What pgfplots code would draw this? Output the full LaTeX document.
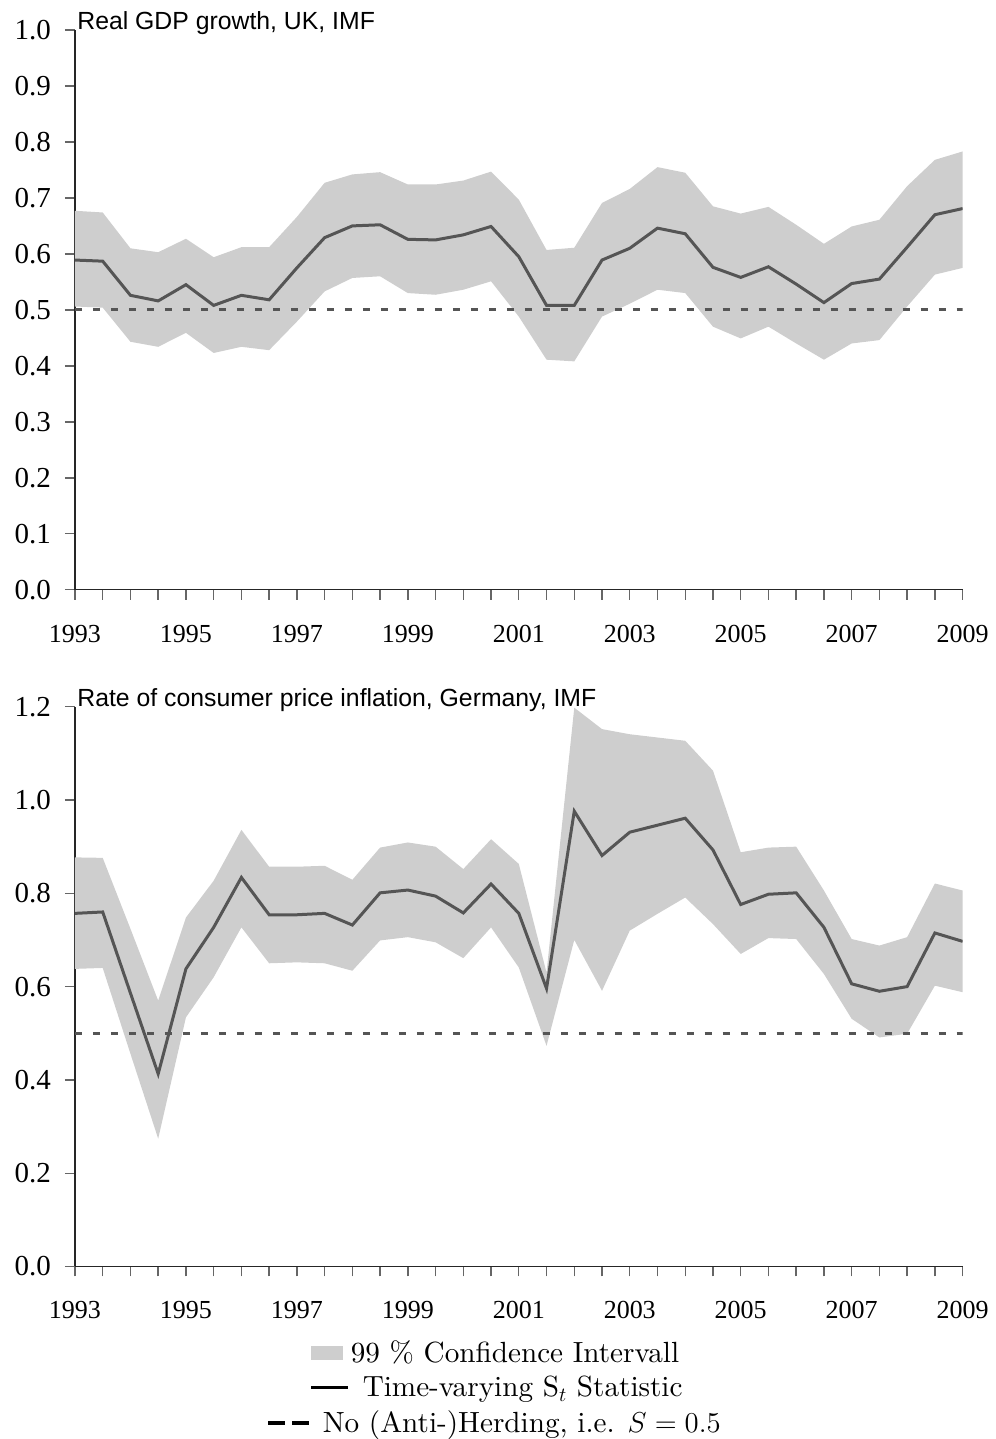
\documentclass[border=0pt]{standalone}
\usepackage{pgfplots}
\usepackage{pgfplotstable}
\pgfplotsset{compat=1.18}
\usepgfplotslibrary{fillbetween}
\usepackage{fontspec}
\newfontfamily\timesf{Liberation Serif}
\newfontfamily\arialf{Liberation Sans}
\newfontfamily\lmten{lmroman10-regular}[Extension=.otf]
\definecolor{linec}{HTML}{555555}
\definecolor{cifill}{HTML}{CECECE}

\pgfplotstableread{
x s up lo
1993 0.589 0.677 0.506
1993.5 0.587 0.674 0.504
1994 0.526 0.610 0.443
1994.5 0.516 0.603 0.434
1995 0.545 0.627 0.459
1995.5 0.508 0.594 0.423
1996 0.526 0.612 0.434
1996.5 0.518 0.612 0.428
1997 0.575 0.666 0.479
1997.5 0.629 0.727 0.533
1998 0.650 0.742 0.557
1998.5 0.652 0.746 0.560
1999 0.626 0.724 0.530
1999.5 0.625 0.724 0.527
2000 0.634 0.731 0.536
2000.5 0.649 0.747 0.551
2001 0.595 0.697 0.488
2001.5 0.508 0.607 0.411
2002 0.508 0.611 0.408
2002.5 0.589 0.691 0.488
2003 0.610 0.716 0.511
2003.5 0.646 0.755 0.536
2004 0.636 0.745 0.530
2004.5 0.576 0.685 0.470
2005 0.558 0.672 0.449
2005.5 0.577 0.684 0.470
2006 0.546 0.652 0.440
2006.5 0.513 0.618 0.411
2007 0.547 0.649 0.440
2007.5 0.555 0.661 0.446
2008 0.612 0.721 0.506
2008.5 0.670 0.768 0.563
2009 0.681 0.783 0.575
}\gdpuk

\pgfplotstableread{
x s up lo
1993 0.757 0.877 0.638
1993.5 0.760 0.876 0.640
1994 0.586 0.724 0.456
1994.5 0.413 0.570 0.274
1995 0.638 0.748 0.534
1995.5 0.727 0.827 0.620
1996 0.834 0.936 0.727
1996.5 0.754 0.857 0.650
1997 0.754 0.857 0.652
1997.5 0.757 0.859 0.650
1998 0.732 0.829 0.634
1998.5 0.801 0.898 0.699
1999 0.807 0.909 0.706
1999.5 0.794 0.900 0.695
2000 0.758 0.852 0.661
2000.5 0.820 0.916 0.727
2001 0.757 0.863 0.641
2001.5 0.596 0.630 0.473
2002 0.976 1.198 0.700
2002.5 0.881 1.152 0.591
2003 0.931 1.141 0.720
2003.5 0.946 1.134 0.756
2004 0.961 1.127 0.791
2004.5 0.893 1.063 0.734
2005 0.776 0.888 0.670
2005.5 0.798 0.898 0.704
2006 0.801 0.900 0.702
2006.5 0.727 0.806 0.627
2007 0.606 0.702 0.531
2007.5 0.590 0.688 0.491
2008 0.600 0.706 0.499
2008.5 0.715 0.821 0.602
2009 0.697 0.806 0.588
}\cpide

\pgfplotsset{
  myaxis/.style={
    scale only axis, width=444pt, height=280pt,
    axis x line=bottom, axis y line=left,
    axis line style={-, black!85, line width=0.7pt},
    xmin=1993, xmax=2009, ymin=0,
    xtick={1993,1995,1997,1999,2001,2003,2005,2007,2009},
    xticklabels={1993,1995,1997,1999,2001,2003,2005,2007,2009},
    minor x tick num=3,
    tick align=outside,
    major tick length=5pt, minor tick length=5pt,
    tick style={black!60, line width=0.7pt},
    x tick label style={font=\timesf\fontsize{13}{13}\selectfont, yshift=-9pt},
    y tick label style={font=\timesf\fontsize{14.5}{14.5}\selectfont, xshift=-3.5pt},
    every axis title shift=0pt,
    title style={at={(0,1)}, anchor=base west, inner sep=0pt, xshift=1pt, yshift=0pt,
      font=\arialf\fontsize{12.4}{13}\selectfont},
  }
}

\begin{document}
\begin{tikzpicture}
\begin{axis}[myaxis, at={(0pt,0pt)}, anchor=north west,
  ymax=1,
  ytick={0,0.1,0.2,0.3,0.4,0.5,0.6,0.7,0.8,0.9,1},
  yticklabels={0.0,0.1,0.2,0.3,0.4,0.5,0.6,0.7,0.8,0.9,1.0},
  title={Real GDP growth, UK, IMF}]
\addplot[name path=upA, draw=none, forget plot] table[x=x,y=up]{\gdpuk};
\addplot[name path=loA, draw=none, forget plot] table[x=x,y=lo]{\gdpuk};
\addplot[fill=cifill, draw=none, forget plot] fill between[of=upA and loA];
\addplot[linec, line width=1.5pt, dash pattern=on 3.5pt off 5.5pt, forget plot] coordinates {(1993,0.5) (2009,0.5)};
\addplot[linec, line width=1.5pt, forget plot] table[x=x,y=s]{\gdpuk};
\end{axis}

\begin{axis}[myaxis, at={(0pt,-338.5pt)}, anchor=north west,
  ymax=1.2,
  ytick={0,0.2,0.4,0.6,0.8,1.0,1.2},
  yticklabels={0.0,0.2,0.4,0.6,0.8,1.0,1.2},
  title={Rate of consumer price inflation, Germany, IMF},
  legend cell align=left,
  legend style={at={(0.2151,-0.125)}, anchor=north west, draw=none, fill=none,
    inner sep=0pt, row sep=1.2pt, font=\lmten\fontsize{14.6}{15.5}\selectfont}]
\addplot[name path=upB, draw=none, forget plot] table[x=x,y=up]{\cpide};
\addplot[name path=loB, draw=none, forget plot] table[x=x,y=lo]{\cpide};
\addplot[fill=cifill, draw=none,
  legend image code/.code={\fill[cifill] (0pt,-3.5pt) rectangle (16pt,3.5pt);}]
  fill between[of=upB and loB];
\addlegendentry{\hspace*{-1.5pt}99 \% Confidence Intervall}
\addplot[linec, line width=1.5pt,
  legend image code/.code={\draw[black, line width=1.5pt, solid] (0pt,0pt) -- (18.5pt,0pt);}]
  table[x=x,y=s]{\cpide};
\addlegendentry{\hspace*{4.5pt}Time-varying S$_t$ Statistic}
\addplot[linec, line width=1.5pt, dash pattern=on 3.5pt off 5.5pt,
  legend image code/.code={\draw[black, line width=2pt, dash pattern=on 8.5pt off 3.5pt] (-21.5pt,0pt) -- (-1pt,0pt);}]
  coordinates {(1993,0.5) (2009,0.5)};
\addlegendentry{\hspace*{-15.5pt}No (Anti-)Herding, i.e. $S=0.5$}
\end{axis}
\path (-37.5pt,15pt) (459.5pt,-704.5pt);
\end{tikzpicture}
\end{document}
